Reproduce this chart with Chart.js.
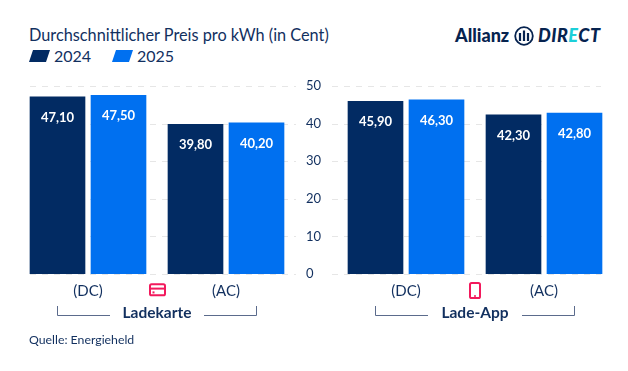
<!DOCTYPE html>
<html>
<head>
<meta charset="utf-8">
<script src="https://cdn.jsdelivr.net/npm/chart.js@4/dist/chart.umd.min.js"></script>
<style>
  html, body { margin: 0; padding: 0; background: #fff; }
  #page { position: relative; width: 628px; height: 371px; overflow: hidden; font-family: Lato, sans-serif; color: #12305f; }
  #page > * { position: absolute; }
  .txt { white-space: nowrap; line-height: 1; }
  .swatch { width: 21px; height: 12px; clip-path: polygon(4px 0, 100% 0, 17px 100%, 0 100%); }
  canvas { display: block; }
</style>
</head>
<body>
<div id="page">
  <div class="txt" style="left:29px;top:27px;font-size:16.3px;">Durchschnittlicher Preis pro kWh (in Cent)</div>
  <div class="swatch" style="left:29px;top:50px;background:#022b63;"></div>
  <div class="txt" style="left:54px;top:48px;font-size:16px;">2024</div>
  <div class="swatch" style="left:112px;top:50px;background:#0070f0;"></div>
  <div class="txt" style="left:137px;top:48px;font-size:16px;">2025</div>

  <div class="txt" style="left:455px;top:26px;font-size:18px;font-weight:900;color:#06234f;">Allianz</div>
  <svg style="left:514px;top:26px;" width="20" height="20" viewBox="0 0 20 20" fill="none" stroke="#06234f">
    <circle cx="10" cy="10" r="8.8" stroke-width="1.8"/>
    <path d="M6 15V7M10 15V4.5M14 15V7" stroke-width="2.2"/>
  </svg>
  <div class="txt" style="left:538px;top:26px;font-size:18px;font-weight:900;font-style:italic;color:#06234f;letter-spacing:.5px;">DIR<span style="color:#1ccfd8;">E</span>CT</div>

  <div style="left:0;top:0;width:332px;height:371px;"><canvas id="left"></canvas></div>
  <div style="left:318px;top:0;width:310px;height:371px;"><canvas id="right"></canvas></div>

  <svg style="left:0;top:0;" width="628" height="371" fill="none" stroke="#5b6b8c" stroke-width="1">
    <path d="M57.5 306V315.5H110M204 315.5H256.5V306"/>
    <path d="M375.5 306V315.5H428M522 315.5H574.5V306"/>
    <g stroke="#f2195c" stroke-width="2">
      <rect x="150" y="284.3" width="15" height="11" rx="1.6"/>
      <path d="M150 288.6H165"/>
      <path d="M152.5 292.4H154.5"/>
      <rect x="470" y="283" width="10" height="15" rx="1.6"/>
      <path d="M474 296H476" stroke-width="1.4"/>
    </g>
  </svg>
  <div class="txt" style="left:157px;top:305px;transform:translateX(-50%);font-size:15.5px;font-weight:700;">Ladekarte</div>
  <div class="txt" style="left:475px;top:305px;transform:translateX(-50%);font-size:15.5px;font-weight:700;">Lade-App</div>
  <div class="txt" style="left:29px;top:334px;font-size:12.3px;">Quelle: Energieheld</div>
</div>
<script>
const categories = ["(DC)", "(AC)"];
const years = ["2024", "2025"];
const ladekarte2024 = [47.1, 39.8];
const ladekarte2025 = [47.5, 40.2];
const ladeApp2024 = [45.9, 42.3];
const ladeApp2025 = [46.3, 42.8];
const yTicks = [0, 10, 20, 30, 40, 50];

const dark = "#022b63";
const bright = "#0070f0";
const fontFamily = "Lato, sans-serif";
const textColor = "#12305f";

// dashed grid, chart.js would run it over the whole chart area
const dashedGrid = {
  id: "dashedGrid",
  beforeDatasetsDraw(chart, args, opts) {
    const { ctx, scales } = chart;
    ctx.save();
    ctx.strokeStyle = "#e6e6e6";
    ctx.lineWidth = 1;
    ctx.setLineDash([6, 6]);
    yTicks.forEach((t) => {
      const y = Math.round(scales.y.getPixelForValue(t)) + 0.5;
      ctx.beginPath();
      ctx.moveTo(opts.from, y);
      ctx.lineTo(opts.to, y);
      ctx.stroke();
    });
    ctx.restore();
  },
};

// value inside the bar, 20px under its top
const barValues = {
  id: "barValues",
  afterDatasetsDraw(chart) {
    const { ctx } = chart;
    ctx.save();
    ctx.fillStyle = "#fff";
    ctx.font = "700 13px " + fontFamily;
    ctx.textAlign = "center";
    ctx.textBaseline = "middle";
    chart.data.datasets.forEach((ds, i) => {
      chart.getDatasetMeta(i).data.forEach((bar, j) => {
        ctx.fillText(ds.data[j].toFixed(2).replace(".", ","), bar.x, bar.y + 20.5);
      });
    });
    ctx.restore();
  },
};

function makeChart(id, a, b, padding, showAxis, grid) {
  new Chart(document.getElementById(id), {
    type: "bar",
    data: {
      labels: categories,
      datasets: [
        { label: years[0], data: a, backgroundColor: dark, barThickness: 61, maxBarThickness: 55 },
        { label: years[1], data: b, backgroundColor: bright, barThickness: 61, maxBarThickness: 55 },
      ],
    },
    options: {
      responsive: true,
      maintainAspectRatio: false,
      animation: false,
      layout: { padding },
      plugins: { legend: { display: false }, tooltip: { enabled: false }, dashedGrid: grid },
      scales: {
        x: {
          grid: { display: false },
          border: { display: false },
          ticks: { color: textColor, font: { family: fontFamily, size: 15 }, padding: 0, maxRotation: 0 },
        },
        y: {
          position: "right",
          display: showAxis,
          min: 0,
          max: 50,
          grid: { display: false },
          border: { display: false },
          afterBuildTicks: (axis) => { axis.ticks = yTicks.map((value) => ({ value })); },
          afterFit: (axis) => { axis.width = showAxis ? 37 : 0; },
          ticks: { color: textColor, font: { family: fontFamily, size: 13 }, padding: 3 },
        },
      },
    },
    plugins: [dashedGrid, barValues],
  });
}

makeChart("left", ladekarte2024, ladekarte2025, { left: 19, top: 86, bottom: 71 }, true, { from: 30, to: 296 });
makeChart("right", ladeApp2024, ladeApp2025, { left: 19, top: 86, bottom: 71, right: 15 }, false, { from: 14, to: 283 });
</script>
</body>
</html>
